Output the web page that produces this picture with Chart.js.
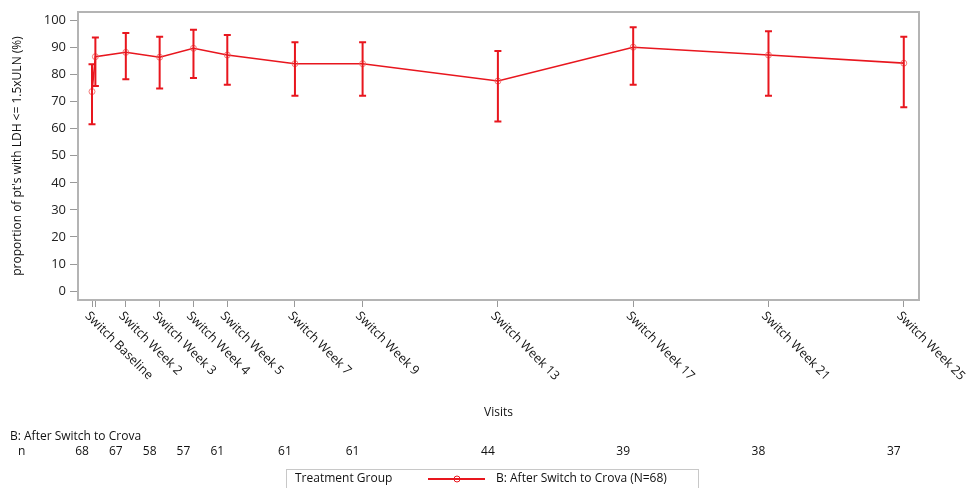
<!DOCTYPE html>
<html>
<head>
<meta charset="utf-8">
<script src="https://cdn.jsdelivr.net/npm/chart.js@4"></script>
<style>
  html, body { margin: 0; padding: 0; background: #fff; }
  #wrap { width: 971px; height: 488px; }
</style>
</head>
<body>
<div id="wrap"><canvas id="chart"></canvas></div>
<script>
// visit positions in weeks (baseline has two close points)
const pointWeeks = [1, 1.1, 2, 3, 4, 5, 7, 9, 13, 17, 21, 25];
const proportion = [73.7, 86.6, 88.2, 86.4, 89.7, 87.2, 84.0, 84.0, 77.6, 90.1, 87.2, 84.2];
const lowerCI = [61.6, 75.8, 78.3, 74.8, 78.7, 76.2, 72.2, 72.2, 62.6, 76.2, 72.2, 67.9];
const upperCI = [83.8, 93.7, 95.3, 94.0, 96.5, 94.6, 91.9, 91.9, 88.7, 97.5, 96.0, 94.0];

const labelWeeks = [1, 2, 3, 4, 5, 7, 9, 13, 17, 21, 25];
const visitLabels = ['Switch Baseline', 'Switch Week 2', 'Switch Week 3', 'Switch Week 4', 'Switch Week 5',
  'Switch Week 7', 'Switch Week 9', 'Switch Week 13', 'Switch Week 17', 'Switch Week 21', 'Switch Week 25'];
const nCounts = [68, 67, 58, 57, 61, 61, 61, 44, 39, 38, 37];

const yTicks = [0, 10, 20, 30, 40, 50, 60, 70, 80, 90, 100];

const RED = '#e8161e';
const FONT = '"Open Sans", "DejaVu Sans", sans-serif';

const errorBars = {
  id: 'errorBars',
  afterDatasetsDraw(chart) {
    const ctx = chart.ctx;
    const xs = chart.scales.x, ys = chart.scales.y;
    ctx.save();
    ctx.strokeStyle = RED;
    ctx.lineWidth = 2;
    pointWeeks.forEach((w, i) => {
      const x = xs.getPixelForValue(w);
      const yl = ys.getPixelForValue(lowerCI[i]);
      const yh = ys.getPixelForValue(upperCI[i]);
      ctx.beginPath();
      ctx.moveTo(x, yl); ctx.lineTo(x, yh);
      ctx.moveTo(x - 3.5, yl); ctx.lineTo(x + 3.5, yl);
      ctx.moveTo(x - 3.5, yh); ctx.lineTo(x + 3.5, yh);
      ctx.stroke();
    });
    ctx.restore();
  }
};

const extras = {
  id: 'extras',
  afterDraw(chart) {
    const ctx = chart.ctx;
    const a = chart.chartArea;
    const xs = chart.scales.x;
    ctx.save();
    // frame
    ctx.strokeStyle = '#b4b4b4';
    ctx.lineWidth = 2;
    ctx.strokeRect(a.left, a.top, a.right - a.left, a.bottom - a.top);

    // rotated visit labels
    ctx.fillStyle = '#111';
    ctx.font = '12.5px ' + FONT;
    ctx.textAlign = 'left';
    ctx.textBaseline = 'middle';
    labelWeeks.forEach((w, i) => {
      const x = xs.getPixelForValue(w);
      ctx.save();
      ctx.translate(x - 5, a.bottom + 14);
      ctx.rotate(Math.PI / 4);
      ctx.fillText(visitLabels[i], 0, 0);
      ctx.restore();
    });

    ctx.font = '12px ' + FONT;
    // axis title
    ctx.textAlign = 'center';
    ctx.fillText('Visits', (a.left + a.right) / 2, 413);

    // n table
    ctx.textAlign = 'left';
    ctx.fillText('B: After Switch to Crova', 10, 437);
    ctx.fillText('n', 18, 452);
    ctx.textAlign = 'center';
    labelWeeks.forEach((w, i) => {
      ctx.fillText(String(nCounts[i]), xs.getPixelForValue(w) - 10, 452);
    });

    // legend
    ctx.strokeStyle = '#c8c8c8';
    ctx.lineWidth = 1;
    ctx.strokeRect(286.5, 469.5, 412, 22);
    ctx.textAlign = 'left';
    ctx.fillText('Treatment Group', 295, 479);
    ctx.strokeStyle = RED;
    ctx.lineWidth = 2;
    ctx.beginPath();
    ctx.moveTo(428, 479); ctx.lineTo(485, 479);
    ctx.stroke();
    ctx.lineWidth = 1;
    ctx.beginPath();
    ctx.arc(457, 479, 3, 0, Math.PI * 2);
    ctx.stroke();
    ctx.fillText('B: After Switch to Crova (N=68)', 496, 479);
    ctx.restore();
  }
};

new Chart(document.getElementById('chart'), {
  type: 'line',
  data: {
    datasets: [{
      label: 'B: After Switch to Crova (N=68)',
      data: pointWeeks.map((w, i) => ({ x: w, y: proportion[i] })),
      borderColor: RED,
      borderWidth: 1.6,
      pointRadius: 3,
      pointBorderWidth: 1,
      pointBorderColor: 'rgba(240, 90, 90, 0.8)',
      pointBackgroundColor: 'rgba(255, 255, 255, 0)',
      fill: false
    }]
  },
  options: {
    responsive: true,
    maintainAspectRatio: false,
    animation: false,
    layout: { padding: { left: 0, right: 52, top: 12, bottom: 0 } },
    plugins: { legend: { display: false }, tooltip: { enabled: false } },
    scales: {
      x: {
        type: 'linear',
        min: 0.586,
        max: 25.45,
        afterBuildTicks(scale) { scale.ticks = pointWeeks.map(v => ({ value: v })); },
        afterFit(scale) { scale.height = 188; },
        grid: { drawOnChartArea: false, tickLength: 7, color: '#999', tickWidth: 1 },
        border: { display: false },
        ticks: { callback: () => '', autoSkip: false, maxRotation: 0 }
      },
      y: {
        min: -3.3,
        max: 103.1,
        afterBuildTicks(scale) { scale.ticks = yTicks.map(v => ({ value: v })); },
        afterFit(scale) { scale.width = 78; },
        grid: { drawOnChartArea: false, tickLength: 8, color: '#999', tickWidth: 1 },
        border: { display: false },
        title: {
          display: true,
          text: "proportion of pt's with LDH <= 1.5xULN (%)",
          color: '#111',
          font: { family: FONT, size: 12 },
          padding: { top: 10, bottom: 0 }
        },
        ticks: {
          color: '#222',
          padding: 4,
          font: { family: FONT, size: 13 }
        }
      }
    }
  },
  plugins: [errorBars, extras]
});
</script>
</body>
</html>
